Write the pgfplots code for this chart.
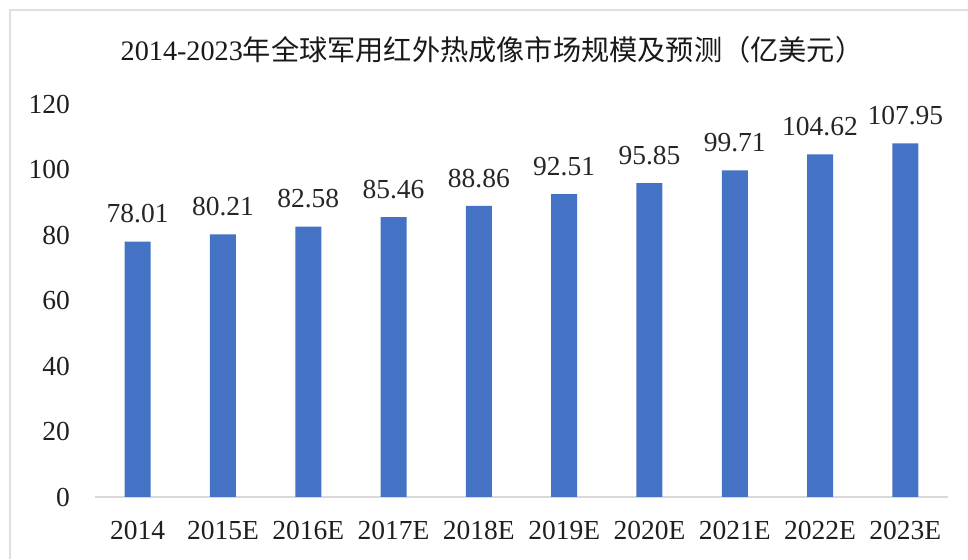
\documentclass[border=0pt]{standalone}
\usepackage{pgfplots}
\pgfplotsset{compat=1.18}
\usepackage{fontspec}
\setmainfont{Liberation Serif}
\newfontfamily\cjk{Noto Sans CJK SC}
\definecolor{barblue}{HTML}{4472C4}
\newcommand{\bigf}{\fontsize{27.5}{30}\selectfont}
\begin{document}
\begin{tikzpicture}
\path[use as bounding box] (0pt,0pt) rectangle (968pt,559pt);
\draw[color=black!12, line width=2pt] (10pt,0pt) -- (10pt,549pt) -- (968pt,549pt);
\node[anchor=base, inner sep=0pt, text=black!90] at (492pt,498pt) {\fontsize{28.2}{30}\selectfont 2014-2023{\cjk 年全球军用红外热成像市场规模及预测（亿美元）}};
\begin{axis}[
  at={(95pt,62pt)}, anchor=south west,
  scale only axis, width=853pt, height=393pt,
  xmin=-0.5, xmax=9.5, ymin=0, ymax=120,
  axis x line=bottom, axis y line=left,
  x axis line style={draw=black!15, line width=1.3pt, -},
  y axis line style={draw=none},
  major tick length=0pt,
  ytick={0,20,...,120},
  xtick={0,...,9},
  xticklabels={2014,2015E,2016E,2017E,2018E,2019E,2020E,2021E,2022E,2023E},
  /pgf/number format/assume math mode=true,
  ticklabel style={font=\bigf, text=black!88, inner sep=0pt},
  yticklabel style={anchor=east, xshift=-25pt},
  xticklabel style={anchor=north, yshift=-24pt},
  clip=false,
  point meta=explicit symbolic,
  nodes near coords,
  nodes near coords style={font=\bigf, text=black!85, anchor=south, inner sep=0pt, yshift=18pt},
]
\addplot[ybar, bar width=26pt, fill=barblue, draw=none] coordinates {
  (0,78.01) [78.01]
  (1,80.21) [80.21]
  (2,82.58) [82.58]
  (3,85.46) [85.46]
  (4,88.86) [88.86]
  (5,92.51) [92.51]
  (6,95.85) [95.85]
  (7,99.71) [99.71]
  (8,104.62) [104.62]
  (9,107.95) [107.95]
};
\end{axis}
\end{tikzpicture}
\end{document}
